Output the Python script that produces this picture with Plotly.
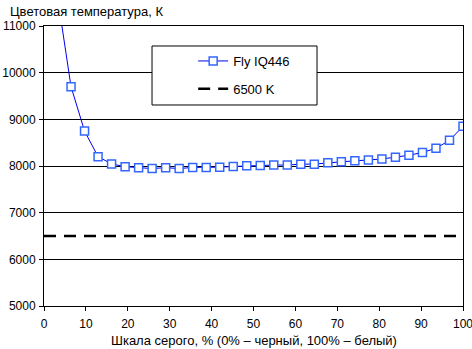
import plotly.graph_objects as go

# Data
steps = list(range(1, 32))
gray_pct = [i * 100 / 31 for i in steps]
temp_k = [11630, 9700, 8750, 8200, 8045, 7985, 7965, 7945, 7965, 7945, 7970, 7970,
          7975, 7990, 8005, 8010, 8020, 8020, 8040, 8040, 8070, 8090, 8110, 8130,
          8150, 8190, 8230, 8290, 8380, 8550, 8850]
ref_x = [0, 100]
ref_y = [6500, 6500]
x_ticks = list(range(0, 101, 10))
y_ticks = list(range(5000, 11001, 1000))

FONT = "Liberation Sans, Arial, sans-serif"

fig = go.Figure()
fig.add_trace(go.Scatter(
    x=gray_pct, y=temp_k, mode="lines+markers", name="Fly IQ446",
    legendgroup="a",
    line=dict(color="#0000EE", width=1),
    marker=dict(symbol="square", size=8, color="white",
                line=dict(color="#3366FF", width=1.5)),
))
fig.add_trace(go.Scatter(
    x=ref_x, y=ref_y, mode="lines", name="6500 K",
    legendgroup="b",
    line=dict(color="black", width=2.5, dash="12px,8px"),
))

fig.update_layout(
    width=472, height=349,
    margin=dict(l=44, r=9, t=26, b=43, autoexpand=False),
    paper_bgcolor="white", plot_bgcolor="white",
    font=dict(family=FONT, size=13, color="black"),
    showlegend=True,
    legend=dict(
        x=0.356, y=0.9286, xanchor="left", yanchor="top",
        bgcolor="rgba(0,0,0,0)", borderwidth=0,
        font=dict(size=13), traceorder="grouped",
        tracegroupgap=8,
    ),
    shapes=[dict(
        type="rect", xref="paper", yref="paper",
        x0=0.2578, x1=0.6516, y0=0.7179, y1=0.9286,
        line=dict(color="black", width=1), fillcolor="white", layer="above",
    )],
    xaxis=dict(
        range=[0, 100], tickvals=x_ticks, ticktext=[str(v) for v in x_ticks],
        ticks="outside", ticklen=4, ticklabeloverflow="allow", automargin=False,
        tickcolor="black", showline=True, linecolor="black", linewidth=1,
        mirror=True, showgrid=False, zeroline=False, ticklabelstandoff=3,
        tickfont=dict(size=12),
    ),
    yaxis=dict(
        range=[5000, 11000], tickvals=y_ticks, ticktext=[str(v) for v in y_ticks],
        ticks="outside", ticklen=4, ticklabeloverflow="allow", automargin=False,
        tickcolor="black", showline=True, linecolor="black", linewidth=1,
        mirror=True, showgrid=True, gridcolor="black", gridwidth=1,
        zeroline=False, tickfont=dict(size=12), ticklabelstandoff=1,
    ),
    annotations=[
        dict(
            text="Цветовая температура, К", x=0, y=1, xref="paper", yref="paper",
            xanchor="left", yanchor="bottom", xshift=-36, yshift=5, showarrow=False,
            font=dict(size=13),
        ),
        dict(
            text="Шкала серого, % (0% – черный, 100% – белый)", x=0.5, y=0,
            xref="paper", yref="paper", xanchor="center", yanchor="middle",
            yshift=-34, showarrow=False, font=dict(size=13),
        ),
    ],
)

fig.write_html("out.html")
